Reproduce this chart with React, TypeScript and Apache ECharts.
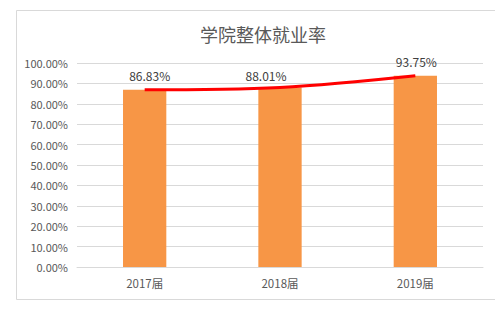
import React, { useEffect, useRef } from "react";
import * as echarts from "echarts";

const categories = ["2017届", "2018届", "2019届"];
const rates = [86.83, 88.01, 93.75];
const yTicks = [0, 10, 20, 30, 40, 50, 60, 70, 80, 90, 100];
const labelOffsets = [[5, 0], [-14, 2], [1, 0]];

export default function App() {
  const ref = useRef<HTMLDivElement>(null);
  useEffect(() => {
    if (!ref.current) return;
    const chart = echarts.init(ref.current, null, { renderer: "svg" });
    const font = "'Noto Sans CJK SC', 'Liberation Sans', sans-serif";
    chart.setOption({
      animation: false,
      backgroundColor: "#ffffff",
      textStyle: { fontFamily: font },
      title: {
        text: "学院整体就业率",
        left: 258,
        textAlign: "center",
        top: 20,
        textStyle: { fontSize: 18, fontWeight: "normal", color: "#595959", fontFamily: font },
      },
      graphic: [
        {
          type: "rect",
          shape: { x: 16.5, y: 10.5, width: 500, height: 289 },
          style: { fill: "none", stroke: "#d9d9d9", lineWidth: 1 },
          silent: true,
          z: -1,
        },
      ],
      grid: { left: 77, right: 12, top: 63, bottom: 43 },
      xAxis: {
        type: "category",
        data: categories,
        axisLine: { lineStyle: { color: "#d9d9d9" } },
        axisTick: { show: false },
        axisLabel: { color: "#595959", fontSize: 11.5, margin: 10, fontFamily: font },
      },
      yAxis: {
        type: "value",
        min: yTicks[0],
        max: yTicks[yTicks.length - 1],
        interval: 10,
        axisLine: { show: false },
        axisTick: { show: false },
        splitLine: { lineStyle: { color: "#d9d9d9" } },
        axisLabel: {
          color: "#595959",
          fontSize: 11,
          margin: 9,
          fontFamily: font,
          formatter: (v: number) => v.toFixed(2) + "%",
        },
      },
      series: [
        {
          type: "bar",
          data: rates.map((v, i) => ({
            value: v,
            label: {
              show: true,
              position: "top",
              distance: 8,
              offset: labelOffsets[i],
              formatter: (p: any) => p.value.toFixed(2) + "%",
              color: "#404040",
              fontSize: 12,
              fontFamily: font,
            },
          })),
          barWidth: "32%",
          itemStyle: { color: "#f79646" },
        },
        {
          type: "line",
          data: rates,
          smooth: 0.35,
          symbol: "none",
          lineStyle: { color: "#ff0000", width: 3 },
          z: 3,
        },
      ],
    });
    return () => chart.dispose();
  }, []);
  return (
    <div
      ref={ref}
      style={{ position: "absolute", left: 0, top: 0, width: 495, height: 310 }}
    />
  );
}
